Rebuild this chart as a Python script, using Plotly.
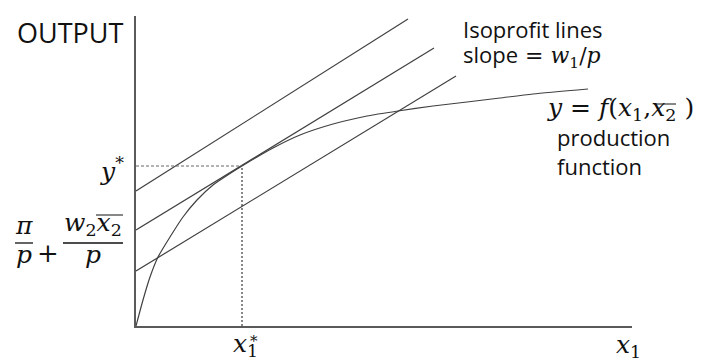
import plotly.graph_objects as go

# production function y = f(x1, x2bar)
curve_x = [0, 7, 14, 22, 34, 47, 61, 77, 94, 106, 137, 164, 197, 231, 262, 297, 331, 364, 397, 452]
curve_y = [0, 26, 49, 69, 89, 109, 126, 141, 152.5, 160, 178, 191, 202, 210, 215, 220, 224, 228, 232, 237]

# isoprofit lines, start and end of each
iso_x = [[0, 272], [0, 298], [0, 320]]
iso_y = [[135, 307], [96, 278], [55, 250]]

# profit maximising point
x_star = 106
y_star = 160

# plot area in (reference) pixels
L, T, R, B = 136, 16, 632, 326
PW, PH = R - L, B - T
OFF = 8  # default body margin of the html page

LINE = '#404040'
AXIS = '#5a5a5a'
TXT = '#111111'
SANS = 'Open Sans'
MATH = 'DejaVu Serif'


def ann(text, px, base, size, family, anchor='center', k=0.36):
    # place text by pixel x and baseline y
    return dict(xref='paper', yref='paper',
                x=(px - L) / PW, y=(B - (base - k * size)) / PH,
                xanchor=anchor, yanchor='middle', showarrow=False,
                text=text, font=dict(family=family, size=size, color=TXT))


def bar(x0, x1, py, width=1.3):
    return dict(type='line', xref='paper', yref='paper',
                x0=(x0 - L) / PW, x1=(x1 - L) / PW,
                y0=(B - py) / PH, y1=(B - py) / PH,
                line=dict(color=TXT, width=width))


fig = go.Figure()

for xs, ys in zip(iso_x, iso_y):
    fig.add_trace(go.Scatter(x=xs, y=ys, mode='lines',
                             line=dict(color=LINE, width=1.2)))

fig.add_trace(go.Scatter(x=curve_x, y=curve_y, mode='lines',
                         line=dict(color=LINE, width=1.2, shape='spline', smoothing=0.6)))

# dashed guides to the optimum
fig.add_trace(go.Scatter(x=[0, x_star], y=[y_star, y_star], mode='lines',
                         line=dict(color='#666666', width=1, dash='3px,2px')))
fig.add_trace(go.Scatter(x=[x_star, x_star], y=[0, y_star], mode='lines',
                         line=dict(color='#111111', width=1, dash='2px,2px')))

it = lambda s: f'<i>{s}</i>'
eq = f'<span style="font-family:{MATH}"> = </span>'
m = lambda s: f'<span style="font-family:{MATH}">{s}</span>'

annotations = [
    ann('OUTPUT', 70, 42, 27, SANS),
    ann(it('y') + '<sup>*</sup>', 126, 178, 25, MATH, anchor='right'),
    ann(it('π'), 24, 234, 25, MATH),
    ann('+', 48, 262, 26, MATH),
    ann(it('w') + '<sub>2</sub>' + it('x') + '<sub>2</sub>', 93, 233, 25, MATH),
    ann(it('p'), 24, 263, 25, MATH),
    ann(it('p'), 93, 263, 25, MATH),
    ann(it('x') + '<sub>1</sub>', 245, 354, 25, MATH),
    ann('*', 254, 346, 15, MATH),
    ann(it('x') + '<sub>1</sub>', 628, 355, 25, MATH),
    ann('Isoprofit lines', 461, 37, 22, SANS, anchor='left'),
    ann('slope' + eq + m(it('w') + '<sub>1</sub>/' + it('p')), 461, 63, 22, SANS, anchor='left'),
    ann(it('y') + ' = ' + it('f') + '(' + it('x') + '<sub>1</sub>,' + it('x') + '<sub>2</sub> )',
        620, 118, 25, MATH),
    ann('production', 555, 145, 22, SANS, anchor='left'),
    ann('function', 555, 174, 22, SANS, anchor='left'),
]

shapes = [
    bar(15, 33, 243),
    bar(63, 123, 243),
    bar(96, 123, 215, 1),
    bar(654, 676, 104, 1),
]

fig.update_layout(
    width=705 - OFF, height=361 - OFF,
    margin=dict(l=L - OFF, r=705 - R, t=T - OFF, b=361 - B),
    paper_bgcolor='white', plot_bgcolor='white',
    showlegend=False,
    xaxis=dict(range=[0, PW], showline=True, linecolor=AXIS, linewidth=1.5,
               showgrid=False, zeroline=False, showticklabels=False, ticks=''),
    yaxis=dict(range=[0, PH], showline=True, linecolor=AXIS, linewidth=1.5,
               showgrid=False, zeroline=False, showticklabels=False, ticks=''),
    annotations=annotations,
    shapes=shapes,
)

fig.write_html("out.html")
